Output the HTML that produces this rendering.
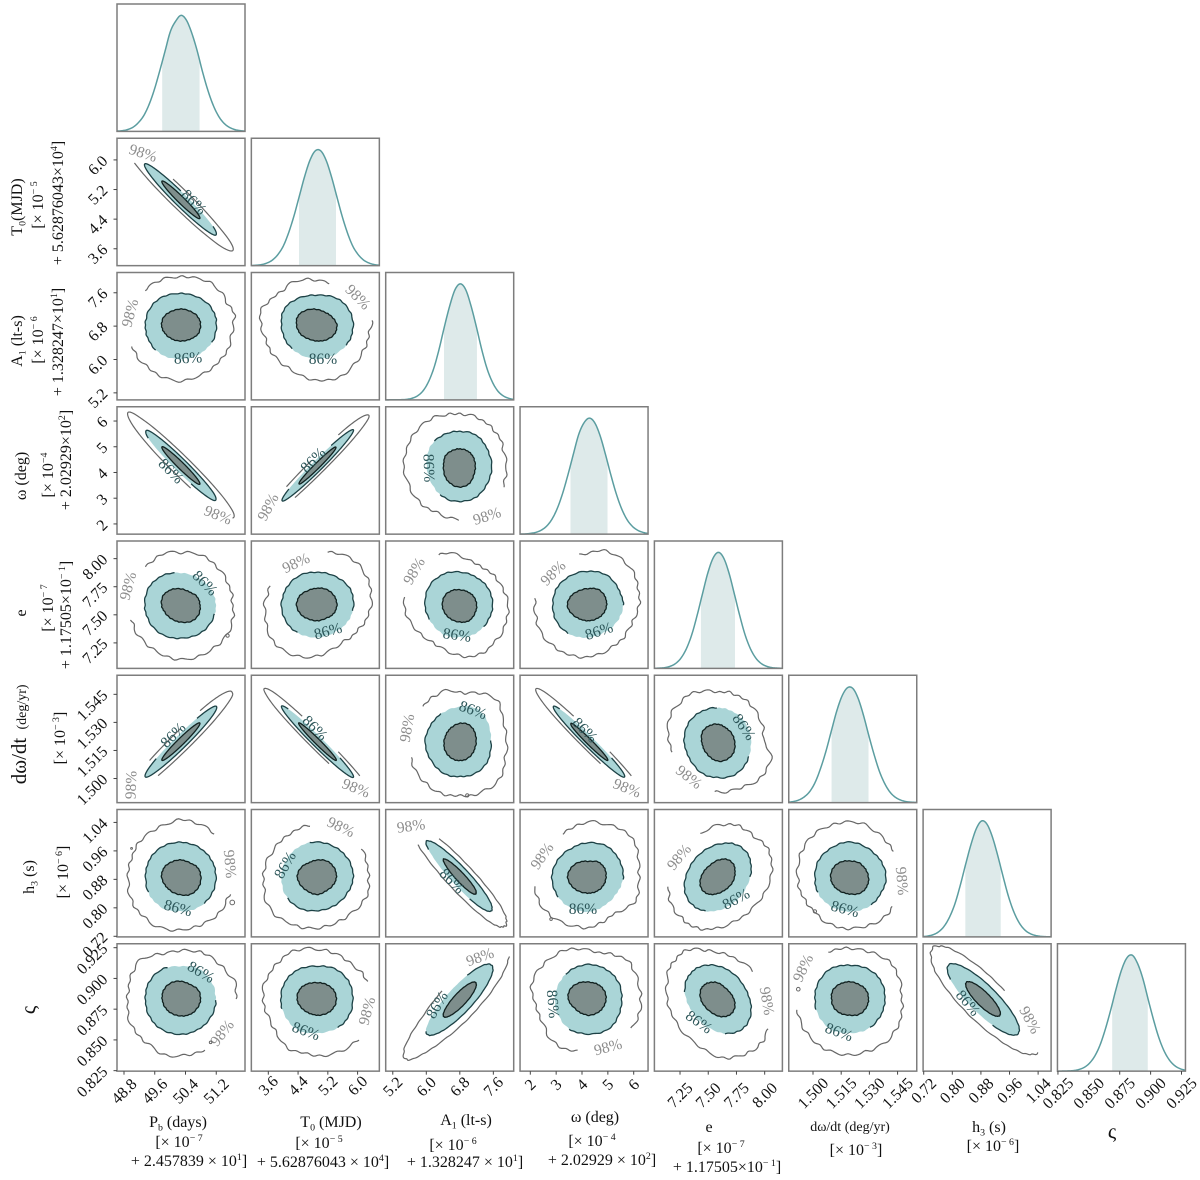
<!DOCTYPE html>
<html lang="en">
<head>
<meta charset="utf-8">
<title>Corner plot of timing parameters</title>
<style>
html,body{margin:0;padding:0;background:#fff;}
svg{display:block;font-family:"Liberation Serif","DejaVu Serif",serif;}
</style>
</head>
<body>
<svg id="chart" xmlns="http://www.w3.org/2000/svg" width="1200" height="1180" viewBox="0 0 1200 1180">
<rect x="0" y="0" width="1200" height="1180" fill="#ffffff"/>
</svg>
<script>
// ---------- data ----------
const paramNames = ['pb','t0','a1','omega','e','omega-dot','h3','stig'];
const rangeLo = [48.618,3.144,5.031,1.603,7.023,1.4871,0.7183,0.8246];
const rangeHi = [51.948,6.585,8.086,6.555,8.157,1.5552,1.0763,0.9282];
const means = [50.28,4.922,6.816,4.27,7.586,1.5197,0.8859,0.8833];
const sigmas = [0.486,0.497,0.393,0.716,0.151,0.00983,0.0495,0.0144];
const tickValues = [
 [48.8,49.6,50.4,51.2],[3.6,4.4,5.2,6.0],[5.2,6.0,6.8,7.6],[2,3,4,5,6],
 [7.25,7.5,7.75,8.0],[1.5,1.515,1.53,1.545],[0.72,0.8,0.88,0.96,1.04],[0.825,0.85,0.875,0.9,0.925]];
const tickLabels = [
 ['48.8','49.6','50.4','51.2'],['3.6','4.4','5.2','6.0'],['5.2','6.0','6.8','7.6'],['2','3','4','5','6'],
 ['7.25','7.50','7.75','8.00'],['1.500','1.515','1.530','1.545'],['0.72','0.80','0.88','0.96','1.04'],['0.825','0.850','0.875','0.900','0.925']];
// marginal density, 25 evenly spaced samples across each parameter's range (peak = 1)
const marginalPb = [.003,.006,.016,.036,.075,.135,.23,.36,.52,.69,.86,.95,1,.96,.85,.70,.52,.36,.23,.135,.073,.037,.017,.007,.003];
const marginalT0 = [.001,.004,.01,.024,.05,.097,.17,.285,.43,.60,.77,.91,.99,.99,.91,.77,.6,.43,.285,.17,.097,.05,.024,.01,.004];
const marginalA1 = [0,.001,.001,.002,.005,.015,.036,.078,.154,.27,.435,.63,.81,.95,1,.95,.81,.63,.435,.27,.154,.078,.036,.015,.005];
const marginalOm = [.001,.002,.007,.016,.035,.07,.13,.224,.354,.515,.69,.86,.96,1,.96,.85,.69,.515,.354,.224,.13,.07,.035,.016,.007];
const marginalE = [.001,.003,.007,.019,.043,.09,.17,.29,.455,.64,.82,.95,1,.95,.82,.64,.455,.29,.17,.09,.043,.019,.007,.003,.001];
const marginalOmDot = [.005,.011,.025,.053,.10,.18,.30,.447,.62,.79,.92,.99,.985,.90,.755,.58,.415,.27,.164,.09,.046,.022,.009,.004,.002];
const marginalH3 = [.003,.009,.021,.047,.095,.175,.29,.45,.63,.80,.935,1,.97,.86,.70,.52,.35,.217,.123,.063,.03,.013,.005,.002,.001];
const marginalStig = [0,.001,.002,.005,.014,.032,.068,.13,.227,.365,.53,.71,.87,.975,1,.93,.80,.62,.445,.29,.174,.095,.047,.021,.009];
const marginals = [marginalPb,marginalT0,marginalA1,marginalOm,marginalE,marginalOmDot,marginalH3,marginalStig];
// pair panels
const panelRows = [1,2,2,3,3,3,4,4,4,4,5,5,5,5,5,6,6,6,6,6,6,7,7,7,7,7,7,7];
const panelCols = [0,0,1,0,1,2,0,1,2,3,0,1,2,3,4,0,1,2,3,4,5,0,1,2,3,4,5,6];
const correlations = [-.97,0,0,-.97,.98,0,0,0,0,0,.97,-.98,0,-.98,0,0,0,-.93,0,.25,0,0,0,.86,0,-.3,0,-.84];
// contour radii in standard deviations, sampled anticlockwise around each centre
const outerRadii = [
 [2.8,2.85,2.9,2.9,2.95,3,3,3,3,3,3,3,3,3,3,3,3,2.95,2.9,2.9,2.85,2.85,2.8,2.78],
 [2.8,2.92,2.85,2.95,3.05,3,2.95,3,2.95,2.9,2.9,2.9,2.9,2.95,2.95,3.05,3.15,3.3,3.4,3.25,3.1,3,2.9,2.8],
 [2.9,2.95,2.9,2.9,2.85,2.7,2.75,2.9,2.95,2.85,3,3.2,3.05,2.95,2.95,3,3.05,3.2,3.35,3.4,3.25,3.05,2.9,2.85],
 [2.85,2.9,2.95,3,3,3,3,3,3,2.95,2.95,2.9,2.85,2.85,2.9,2.95,3,3,3,3,3,2.95,2.9,2.85],
 [2.78,2.75,2.8,2.9,3,3,3,3,3,3,3,2.95,2.9,2.9,2.95,3,3,3,3,3,3,2.95,2.9,2.85],
 [2.8,2.75,2.8,2.78,2.8,2.8,2.8,2.85,3.05,3.2,3.3,3.4,3.45,3.35,3.25,3.1,2.95,2.9,2.95,2.95,2.9,2.9,2.9,2.8],
 [2.75,2.8,2.85,2.95,3.05,3.15,3.1,3.2,3,3,2.9,2.9,2.9,2.8,2.85,2.9,3,3.1,3.2,3.2,3.1,3.05,3,2.9],
 [2.9,3,3.1,3.25,3.3,3.2,3,2.9,2.9,2.9,2.85,2.8,2.85,2.9,3.1,3.2,3.25,3.17,3,2.75,2.6,2.6,2.65,2.8],
 [2.9,2.8,2.7,2.65,2.6,2.65,2.9,3.2,3.15,3.2,3.3,3.4,3.4,3.25,3.05,2.85,2.75,2.85,3,3.1,3.1,3,3,2.9],
 [2.7,2.8,2.95,3.15,3.25,3.3,3.1,3,3,2.95,2.9,2.9,2.95,2.95,3.05,3.1,3.1,3.1,3.05,2.9,2.75,2.65,2.55,2.6],
 [2.75,2.75,2.8,2.9,3,3,3,3,3,3,3,2.95,2.9,2.9,2.95,3,3,3,3,3,3,2.95,2.9,2.85],
 [2.9,2.9,2.95,3,3,3,3,3,3,3,2.95,2.9,2.9,2.9,2.95,3,3,3,3,3,3,3,2.95,2.9],
 [2.8,2.8,2.9,3.15,3,2.75,2.65,2.9,2.95,2.95,3,3.05,3.05,3.1,3.15,3.1,3.08,3,2.95,3,3.05,3.13,3,2.85],
 [2.85,2.9,2.95,3,3,3,3,3,3,3,2.95,2.9,2.88,2.9,2.95,3,3,3,3,3,3,3,2.95,2.9],
 [2.7,2.75,2.75,2.8,2.75,2.75,2.72,2.85,3.05,3.05,3.15,3.05,2.85,2.75,2.9,3,3,2.9,2.75,2.77,2.85,3.1,3.2,3.25],
 [2.8,2.8,2.9,3,3.1,3.2,3.25,3.1,3.05,3,2.9,2.85,2.82,2.9,2.95,3,3.05,3.05,3,2.9,2.9,2.9,2.8,2.75],
 [2.75,2.8,2.85,2.9,2.95,3,3,2.95,2.9,2.85,2.85,2.9,2.9,3,3.1,3.13,3,2.95,2.9,2.8,2.75,2.75,2.85,2.85],
 [2.8,2.85,2.95,3,3,3,3,3,3,3,3,2.95,2.95,3,3,3,3,3,3,3,3,2.95,2.85,2.8],
 [2.7,2.8,3,3.25,3.2,3.15,3.15,2.95,2.9,2.85,2.9,2.95,3,3,3.05,3,2.95,2.9,2.85,2.65,2.5,2.6,2.85,2.75],
 [3.15,3.1,2.9,2.82,2.9,3,3.05,3,2.95,2.9,2.9,2.9,2.9,2.88,2.85,2.83,2.9,2.95,2.98,3,3.05,3.1,3.2,3.2],
 [2.7,2.7,2.75,2.85,2.9,3.1,3.15,3.1,3.15,3.1,3,2.9,2.85,2.8,2.75,2.75,2.85,2.9,2.9,2.9,2.95,2.9,2.8,2.7],
 [2.95,3.05,2.9,2.85,2.85,2.8,2.75,2.7,2.85,3.1,3,2.87,2.85,2.95,3.05,3.05,3.1,3.3,3.2,3.15,3.2,3.1,3,2.9],
 [2.85,2.85,2.8,2.7,2.72,2.75,2.8,2.95,3,2.95,2.97,3,2.95,2.85,2.85,3,3.2,3.15,3.2,3.22,3.2,3.14,3,2.9],
 [2.95,2.95,2.9,2.95,3,3,3,3,3,3,3.1,3.3,3.45,3.5,3.4,3.2,3.05,3,3,3,3,3,3,2.95],
 [2.8,2.8,2.9,3,2.85,2.7,2.75,2.95,3.05,3.1,3.2,3.2,3,2.85,2.85,3.05,3.1,3.05,3,2.95,2.9,2.85,2.85,2.85],
 [3.05,3.1,3.1,3.1,3,2.85,2.75,2.75,2.9,2.95,2.95,3,3,3.1,3.2,3.3,3.3,3.35,3.42,3.3,3.2,3.15,3.1,3.05],
 [2.8,2.85,2.95,2.97,2.9,2.85,2.85,2.9,2.95,3,3,2.95,2.85,2.9,3,3.05,3.1,3.15,3.17,3.1,3.1,3.1,3,2.9],
 [3.1,3.05,3,3,3,3,3,3,3,3,3,2.98,2.95,2.97,3,3,3,3,3,3,3.05,3.1,3.15,3.18]];
const midRadii = [
 [1.9,1.95,1.97,1.98,1.98,1.98,1.95,1.95,1.97,1.98,1.98,1.95],
 [1.9,1.95,1.95,1.95,2,1.95,1.9,1.95,2.05,2.05,2,1.95],
 [1.93,1.95,1.95,1.85,1.95,2.05,1.95,1.95,2,2.05,2,1.95],
 [1.88,1.95,1.97,1.98,1.98,1.95,1.88,1.95,1.97,1.98,1.97,1.93],
 [1.95,1.95,1.97,1.98,1.98,1.95,1.92,1.95,1.97,1.98,1.97,1.95],
 [1.9,1.85,1.9,1.85,1.95,2.1,2.05,2,2,1.95,1.95,1.9],
 [1.87,1.85,1.85,1.9,2,2,1.93,1.95,2,1.95,1.95,1.9],
 [1.95,2,1.95,1.94,2,1.95,1.95,1.95,1.95,1.9,1.85,1.9],
 [1.95,1.95,1.9,1.95,2.1,2.2,2.15,2.05,2,1.9,1.9,1.9],
 [1.85,1.85,2,2,2,2,1.96,2,2,1.9,1.8,1.8],
 [1.92,1.95,1.97,1.98,1.98,1.95,1.92,1.95,1.97,1.98,1.97,1.95],
 [1.95,1.97,1.98,1.98,1.98,1.95,1.95,1.97,1.98,1.98,1.98,1.95],
 [1.85,1.95,2.05,1.9,1.9,2,2.15,2.05,2,1.9,1.95,1.95],
 [1.93,1.97,1.98,1.98,1.98,1.95,1.93,1.97,1.98,1.98,1.98,1.95],
 [1.94,1.9,1.85,1.85,1.9,2,1.98,1.9,1.95,1.96,2.05,2],
 [1.88,1.9,1.95,1.98,2,1.95,1.89,1.95,2,1.94,1.95,1.9],
 [1.93,1.95,1.95,2,2,1.95,1.95,2,2,1.9,1.85,1.85],
 [1.92,1.97,2,2,2,2.05,2.1,2,2,2,2,1.95],
 [1.85,1.9,2,1.96,1.9,1.95,2,2,2,1.95,1.8,1.75],
 [1.95,1.97,1.95,1.93,1.95,1.95,1.97,1.95,1.93,1.95,1.95,1.95],
 [1.95,1.9,1.9,2,1.95,1.95,1.9,1.95,1.95,1.94,1.95,1.9],
 [1.87,1.9,1.95,1.85,1.95,1.95,1.9,1.95,2,2,1.95,1.9],
 [1.91,1.95,1.95,1.85,1.95,2,1.98,2,2.05,1.93,1.95,1.95],
 [1.97,1.97,1.97,1.97,2,2.03,2.1,2.05,2,2,2,1.97],
 [1.77,1.85,1.9,1.95,1.9,1.85,1.85,1.9,2,1.98,2,1.85],
 [1.95,1.95,2,1.95,1.9,1.9,1.95,1.95,1.95,1.95,1.95,1.95],
 [1.89,1.95,1.95,1.9,2,1.95,1.9,1.95,2,1.93,1.95,1.9],
 [2.05,2,1.95,1.95,1.95,2,2.02,2,1.95,1.95,2,2.05]];
const innerRadii = [
 [1.02,1.03,1.03,1.03,1.03,1.03,1.02,1.03,1.03,1.03,1.03,1.03],
 [1.05,1.05,1,1,1,1.05,1.03,.98,.95,.95,.97,1.05],
 [1.05,.95,.9,.97,1.1,1.2,1.13,1.05,.95,.95,1,1.05],
 [1.02,1.03,1.03,1.03,1.03,1.03,1.02,1.03,1.03,1.03,1.03,1.03],
 [1.0,1.02,1.02,1.02,1.02,1.02,1.0,1.02,1.02,1.02,1.02,1.02],
 [.9,.9,.9,.9,.95,1.05,1.03,1.1,1.15,1.17,1.1,.95],
 [1.02,1,.9,.96,1.05,1.1,1.03,.95,.95,1,1.1,1.1],
 [1.05,1.05,1.05,1,1,1.1,1.13,1.05,.95,.92,.9,1],
 [.98,.95,.9,.9,1,1.1,1.1,1.05,1,1,1.05,1],
 [.95,1,1.05,.98,1,1.1,1.17,1.05,.95,.92,.9,.92],
 [1.02,1.03,1.03,1.03,1.03,1.03,1.02,1.03,1.03,1.03,1.03,1.03],
 [1.02,1.03,1.03,1.03,1.03,1.03,1.02,1.03,1.03,1.03,1.03,1.03],
 [.95,1,1.05,1,.95,.95,1,1.05,1.05,1.03,1,.95],
 [1.02,1.03,1.03,1.03,1.03,1.03,.98,1.03,1.03,1.03,1.03,1.03],
 [.98,.92,.88,.95,1,1.05,.95,.92,.95,1.06,1.1,1.08],
 [1.07,1.05,.95,.98,1,1.05,1.03,.95,.95,1,1.1,1.1],
 [1.02,1.05,1.05,.98,.95,1.05,1.09,1,.95,.98,.9,.95],
 [.95,1,1,1,1,1.03,1.05,1,1,1,1,.97],
 [.92,.98,1,.9,1,1.1,1.15,1.05,.95,.9,.9,.9],
 [1,1.05,1.05,1,.95,1,1.05,1.05,1,.95,.95,1],
 [1,.95,.95,.92,1,1.05,1.05,1,.95,.95,1.05,1.05],
 [1.05,1.05,.95,1,1.05,1.05,1,.97,.95,.96,1,1.02],
 [1.02,1,.95,.92,1,1.1,1.1,1,.92,.92,.95,1],
 [.96,.96,.96,.98,1,1.02,1.05,1.03,1,1,1,.98],
 [.92,.95,.95,.95,1.05,1.15,1.12,.95,.9,.92,.9,.9],
 [1,.95,.9,.95,.95,1,1.05,1.05,1,1,1,1],
 [1,1,.95,.97,1,1.05,1,1,.95,.92,1,1],
 [.98,.98,.98,.98,.98,.98,.98,.98,.98,.98,.98,.98]];
// estimated small-scale edge roughness of the noisy contours, in standard deviations
const contourRoughness = [.05,-.04,.07,-.02,-.08,.06,.02,-.06,.09,-.03,.04,-.09,.03,.08,-.05,-.02,.07,-.07,.01,.06,-.04,.09,-.06,-.01,.05,-.08,.04,.03,-.07,.08,-.03,-.05,.06,.01,-.09,.07,-.02,.05,-.06,.08,-.04,.02,-.07,.06,.03,-.08,.05,-.03,.09,-.05,-.01,.07,-.08,.04,.02,-.06,.08,-.04,.03,-.07];
// small stray contour islands: panel index, offset in standard deviations along x and y, radius scale
const strayPanels = [15,15,18,20,26,12,21,6];
const strayOffsetX = [2.75,-2.64,-2.05,-1.9,-2.8,.41,1.59,2.5];
const strayOffsetY = [-1.43,1.64,-2.38,-1.94,.55,-2.92,-2.45,-1.8];
const straySizes = [.13,.05,.07,.09,.1,.09,.07,.09];
// angular ranges (deg) left open where a contour label interrupts the line
const outerGaps = [[100,212],[134,205],[7,75],[281,345],[125,245,70,95],[270,334],[132,197],[82,154],[116,171],[101,171],[125,245,72,88],[283,398,70,105],[142,195],[283,398,70,105],[194,265],[342,412],[36,96],[117,208],[122,188],[112,174],[326,390],[295,358],[315,379],[355,470],[259,322],[346,407],[116,191],[348,425]];
const midGaps = [[30,88],[230,327],[228,320],[208,285],[70,140],[142,230],[345,459],[237,348],[206,316],[237,358],[65,130],[53,143],[3,126],[53,143],[338,450],[207,309],[103,214],[200,285],[216,355],[250,345],[208,305],[0,110],[198,302],[80,180],[133,237],[187,281],[199,302],[205,285]];
// contour label annotations: x, y, rotation
const labels98 = [[143,153,18],[130,313,-75],[358,297,45],[218,515,22],[268,507,-62],[487,516,-18],[128,586,-75],[296,563,-25],[414,571,-60],[553,573,-45],[131,785,-88],[356,788,22],[407,728,-80],[627,788,22],[689,777,38],[230,864,85],[341,827,25],[411,826,-8],[542,856,-55],[679,857,-50],[902,881,85],[222,1033,-52],[367,1011,-75],[480,957,-20],[608,1047,-15],[767,1001,80],[803,968,-65],[1030,1020,62]];
const labels86 = [[194,202,45],[188,358,-3],[323,359,0],[171,471,45],[313,460,-45],[429,468,88],[205,583,45],[328,631,-15],[457,635,8],[599,631,-18],[173,735,-45],[315,728,45],[473,710,20],[585,730,45],[744,727,55],[178,908,15],[285,865,-60],[452,881,45],[583,909,0],[736,899,-28],[845,909,15],[201,972,30],[306,1031,20],[437,1005,-60],[553,1004,85],[699,1022,35],[839,1032,20],[968,1003,50]];
// axis title lines: text, x, y, font size
const yTitleLines = [
 ['T_{0}(MJD)',22,207,16],['[× 10^{− 5}',43,205,16],['+ 5.62876043×10^{4}]',63,203,16],
 ['A_{1} (lt-s)',22,341,16],['[× 10^{− 6}',43,340,16],['+ 1.328247×10^{1}]',63,342,16],
 ['ω (deg)',26,476,16],['[× 10^{−4}',53,475,16],['+ 2.02929×10^{2}]',71,460,16],
 ['e',26,613,16],['[× 10^{− 7}',53,608,16],['+ 1.17505×10^{− 1}]',71,615,16],
 ['dω/dt',26,761,21],['(deg/yr)',26,707,14],['[× 10^{− 3}]',65,738,16],
 ['h_{3} (s)',34,877,16],['[× 10^{− 6}]',68,872,16],
 ['ς',35,1010,21]];
const xTitleLines = [
 ['P_{b} (days)',178,1127,16],['[× 10^{− 7}',179,1147,16],['+ 2.457839 × 10^{1}]',189,1166,16],
 ['T_{0} (MJD)',331,1127,16],['[× 10^{− 5}',319,1148,16],['+ 5.62876043 × 10^{4}]',323,1167,16],
 ['A_{1} (lt-s)',466,1125,16],['[× 10^{− 6}',453,1150,16],['+ 1.328247 × 10^{1}]',465,1167,16],
 ['ω (deg)',595,1122,16],['[× 10^{− 4}',592,1146,16],['+ 2.02929 × 10^{2}]',602,1165,16],
 ['e',709,1132,16],['[× 10^{− 7}',721,1153,16],['+ 1.17505×10^{− 1}]',727,1172,16],
 ['dω/dt (deg/yr)',850,1131,14],['[× 10^{− 3}]',856,1155,16],
 ['h_{3} (s)',989,1132,16],['[× 10^{− 6}]',993,1151,16],
 ['ς',1112,1138,21]];
const xTickLabelDrop = [20,14.5,15.5,13.5,24,22,19.5,22];

// ---------- layout ----------
const colX = [117,251.35,385.7,520.05,654.4,788.75,923.1,1057.45];
const rowY = [4,138.25,272.5,406.75,541,675.25,809.5,943.75];
const PW = 128, PH = 127.4, DENS_MAX = 1.098;
const NS = 'http://www.w3.org/2000/svg';
const svg = document.getElementById('chart');

function mk(tag, parent, attrs) {
  const e = document.createElementNS(NS, tag);
  for (const k in attrs) e.setAttribute(k, attrs[k]);
  parent.appendChild(e);
  return e;
}
const xS = (c, v) => colX[c] + (v - rangeLo[c]) / (rangeHi[c] - rangeLo[c]) * PW;
const yS = (r, v) => rowY[r] + PH - (v - rangeLo[r]) / (rangeHi[r] - rangeLo[r]) * PH;
const yD = (r, d) => rowY[r] + PH - d / DENS_MAX * PH;

function cubic(p0, p1, p2, p3, f) {
  return .5 * (2 * p1 + (p2 - p0) * f + (2 * p0 - 5 * p1 + 4 * p2 - p3) * f * f + (3 * p1 - p0 - 3 * p2 + p3) * f * f * f);
}
function radiusAt(arr, deg) {
  const n = arr.length;
  const t = (((deg % 360) + 360) % 360) / 360 * n;
  const i = Math.floor(t);
  return cubic(arr[(i - 1 + n) % n], arr[i % n], arr[(i + 1) % n], arr[(i + 2) % n], t - i);
}
function densityAt(arr, frac) {
  const n = arr.length - 1;
  const t = Math.min(n - 1e-6, Math.max(0, frac * n));
  const i = Math.floor(t);
  const v = cubic(arr[Math.max(0, i - 1)], arr[i], arr[i + 1], arr[Math.min(n, i + 2)], t - i);
  return Math.max(0, v);
}
function inGap(deg, gaps) {
  for (let g = 0; g < gaps.length; g += 2) {
    const d = (((deg - gaps[g]) % 360) + 360) % 360;
    if (d <= gaps[g + 1] - gaps[g]) return true;
  }
  return false;
}
function roughnessScale(p) {
  const a = Math.abs(correlations[p]);
  return a >= .95 ? 0 : a >= .8 ? .55 : 1;
}
function contourPoint(p, radii, deg, weight) {
  const r = panelRows[p], c = panelCols[p], rho = correlations[p];
  const s = Math.sqrt(1 - rho * rho), a = deg * Math.PI / 180;
  const q = radiusAt(radii, deg) + weight * roughnessScale(p) * radiusAt(contourRoughness, deg + p * 37);
  const u = q * Math.cos(a), v = q * (rho * Math.cos(a) + s * Math.sin(a));
  return [xS(c, means[c] + sigmas[c] * u), yS(r, means[r] + sigmas[r] * v)];
}
function closedPath(p, radii, weight) {
  let d = '';
  for (let k = 0; k < 360; k += 2) {
    const q = contourPoint(p, radii, k, weight);
    d += (k ? 'L' : 'M') + q[0].toFixed(2) + ' ' + q[1].toFixed(2);
  }
  return d + 'Z';
}
function openPath(p, radii, gaps, weight) {
  let start = 0;
  for (let k = 0; k < 360; k += 2) {
    if (inGap(k, gaps) && !inGap(k + 2, gaps)) { start = k + 2; break; }
  }
  let d = '', pen = false;
  for (let k = start; k <= start + 360; k += 2) {
    if (inGap(k, gaps)) { pen = false; continue; }
    const q = contourPoint(p, radii, k, weight);
    d += (pen ? 'L' : 'M') + q[0].toFixed(2) + ' ' + q[1].toFixed(2);
    pen = true;
  }
  return d;
}
function richText(textEl, str, size) {
  const parts = str.split(/([_^]\{[^}]*\})/).filter(s => s.length);
  let back = 0;
  parts.forEach(s => {
    const t = mk('tspan', textEl, {});
    if (s[0] === '_' && s[1] === '{') {
      t.textContent = s.slice(2, -1);
      t.setAttribute('font-size', (size * 0.62).toFixed(1));
      t.setAttribute('dy', (size * 0.22).toFixed(1));
      back = -size * 0.22;
    } else if (s[0] === '^' && s[1] === '{') {
      t.textContent = s.slice(2, -1);
      t.setAttribute('font-size', (size * 0.62).toFixed(1));
      t.setAttribute('dy', (-size * 0.38).toFixed(1));
      back = size * 0.38;
    } else {
      t.textContent = s;
      if (back) t.setAttribute('dy', back.toFixed(1));
      back = 0;
    }
  });
}

// ---------- diagonal panels ----------
marginals.forEach((dens, c) => {
  const g = mk('g', svg, {});
  
  
  const bandLo = means[c] - sigmas[c], bandHi = means[c] + sigmas[c];
  const fracOf = v => (v - rangeLo[c]) / (rangeHi[c] - rangeLo[c]);
  let area = 'M' + xS(c, bandLo).toFixed(2) + ' ' + yD(c, 0).toFixed(2);
  for (let k = 0; k <= 40; k++) {
    const v = bandLo + (bandHi - bandLo) * k / 40;
    area += 'L' + xS(c, v).toFixed(2) + ' ' + yD(c, densityAt(dens, fracOf(v))).toFixed(2);
  }
  area += 'L' + xS(c, bandHi).toFixed(2) + ' ' + yD(c, 0).toFixed(2) + 'Z';
  const band = mk('path', g, {d: area, fill: '#deeaea', stroke: 'none'});
  
  
  let line = '';
  for (let k = 0; k <= 160; k++) {
    const v = rangeLo[c] + (rangeHi[c] - rangeLo[c]) * k / 160;
    line += (k ? 'L' : 'M') + xS(c, v).toFixed(2) + ' ' + yD(c, densityAt(dens, k / 160)).toFixed(2);
  }
  const curve = mk('path', g, {d: line, fill: 'none', stroke: '#5b9da0', 'stroke-width': 1.5});
  
  
  const frame = mk('rect', g, {x: colX[c], y: rowY[c], width: PW, height: PH, fill: 'none', stroke: '#7d7d7d', 'stroke-width': 1.5});
  
  
});

// ---------- pair panels ----------
panelRows.forEach((r, p) => {
  const c = panelCols[p];
  const g = mk('g', svg, {});
  
  
  const midFill = mk('path', g, {d: closedPath(p, midRadii[p], .35), fill: '#aad5d7', stroke: 'none'});
  
  
  const inner = mk('path', g, {d: closedPath(p, innerRadii[p], .25), fill: '#7e8e8c', stroke: '#10201f', 'stroke-width': 1.3});
  
  
  const midLine = mk('path', g, {d: openPath(p, midRadii[p], midGaps[p], .35), fill: 'none', stroke: '#1c4145', 'stroke-width': 1.3});
  
  
  const outerLine = mk('path', g, {d: openPath(p, outerRadii[p], outerGaps[p], 1), fill: 'none', stroke: '#666666', 'stroke-width': 1.2});
  
  
  const l98 = labels98[p], l86 = labels86[p];
  const t98 = mk('text', g, {'text-anchor': 'middle', 'font-size': 15.5, fill: '#8c8c8c', transform: 'translate(' + l98[0] + ' ' + l98[1] + ') rotate(' + l98[2] + ') translate(0 5)'});
  t98.textContent = '98%';
  
  
  const t86 = mk('text', g, {'text-anchor': 'middle', 'font-size': 15.5, fill: '#2b5558', transform: 'translate(' + l86[0] + ' ' + l86[1] + ') rotate(' + l86[2] + ') translate(0 5)'});
  t86.textContent = '86%';
  
  
  const frame = mk('rect', g, {x: colX[c], y: rowY[r], width: PW, height: PH, fill: 'none', stroke: '#7d7d7d', 'stroke-width': 1.5});
  
  
});

// ---------- stray contour islands ----------
strayPanels.forEach((p, i) => {
  const r = panelRows[p], c = panelCols[p];
  const cx = xS(c, means[c] + sigmas[c] * strayOffsetX[i]);
  const cy = yS(r, means[r] + sigmas[r] * strayOffsetY[i]);
  const dot = mk('circle', svg, {cx: cx.toFixed(2), cy: cy.toFixed(2), r: (straySizes[i] * 18).toFixed(2), fill: 'none', stroke: '#666666', 'stroke-width': 1});
  
  
});

// ---------- ticks ----------
const bottom = rowY[7] + PH, left = colX[0];
tickValues.forEach((vals, c) => {
  vals.forEach((v, i) => {
    const x = xS(c, v);
    const tk = mk('line', svg, {x1: x, x2: x, y1: bottom, y2: bottom + 3.5, stroke: '#444', 'stroke-width': 1});
    
    
    const cy = bottom + xTickLabelDrop[c];
    const t = mk('text', svg, {'text-anchor': 'middle', 'font-size': 16, fill: '#111', transform: 'translate(' + (x + 3.7).toFixed(2) + ' ' + (cy + 3.7).toFixed(2) + ') rotate(-45)'});
    t.textContent = tickLabels[c][i];
    
    
  });
  if (c === 0) return;
  vals.forEach((v, i) => {
    const y = yS(c, v);
    const tk = mk('line', svg, {x1: left - 3.5, x2: left, y1: y, y2: y, stroke: '#444', 'stroke-width': 1});
    
    
    const t = mk('text', svg, {'text-anchor': 'end', 'font-size': 16, fill: '#111', transform: 'translate(' + (left - 8.5) + ' ' + (y + 2).toFixed(2) + ') rotate(-45)'});
    t.textContent = tickLabels[c][i];
    
    
  });
});

// ---------- axis titles ----------
yTitleLines.forEach(l => {
  const t = mk('text', svg, {'text-anchor': 'middle', 'font-size': l[3], fill: '#111', transform: 'translate(' + l[1] + ' ' + l[2] + ') rotate(-90)'});
  richText(t, l[0], l[3]);
  
  
});
xTitleLines.forEach(l => {
  const t = mk('text', svg, {'text-anchor': 'middle', 'font-size': l[3], fill: '#111', x: l[1], y: l[2]});
  richText(t, l[0], l[3]);
  
  
});
</script>
</body>
</html>
